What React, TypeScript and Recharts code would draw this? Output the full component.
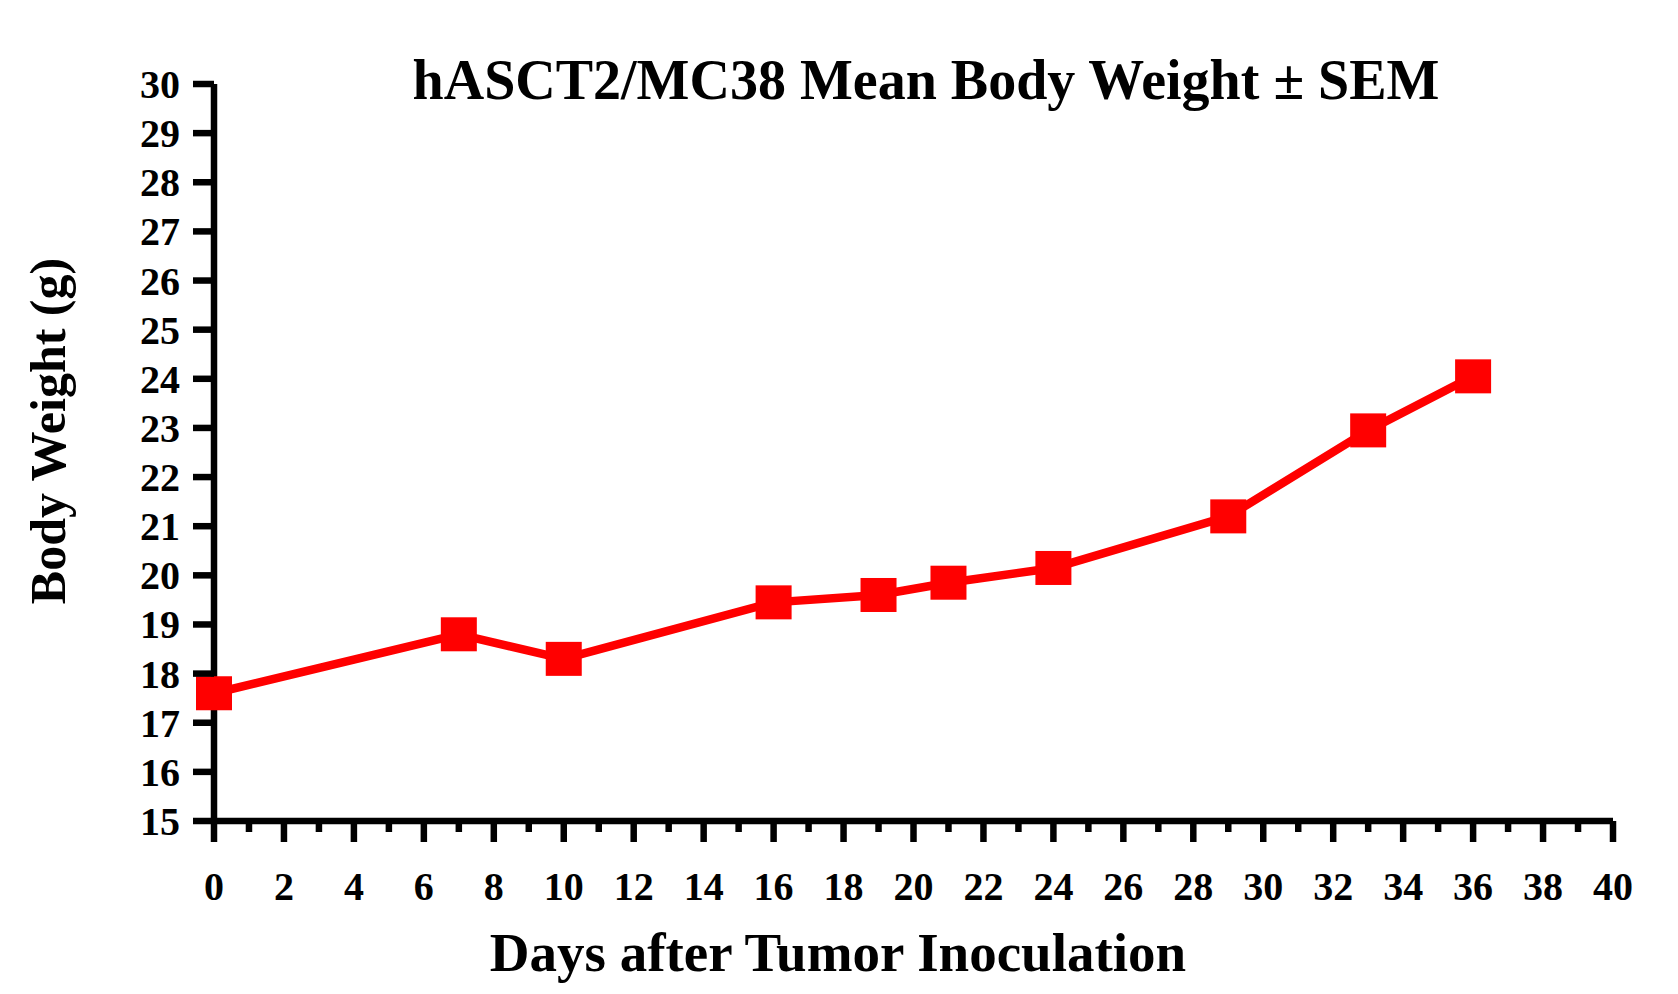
import React from 'react';
import { LineChart, Line, XAxis, YAxis } from 'recharts';

const days = [0, 7, 10, 16, 19, 21, 24, 29, 33, 36];
const weights = [17.6, 18.8, 18.3, 19.45, 19.6, 19.85, 20.15, 21.2, 22.95, 24.05];
const xTicks = Array.from({ length: 41 }, (_, i) => i);
const yTicks = [15, 16, 17, 18, 19, 20, 21, 22, 23, 24, 25, 26, 27, 28, 29, 30];
const data = days.map((d, i) => ({ day: d, w: weights[i] }));

const FONT = '"Liberation Serif", "Times New Roman", serif';

const XTick = (p: any) => {
  const v = p.payload.value;
  const even = v % 2 === 0;
  return (
    <g>
      <line x1={p.x} x2={p.x} y1={p.y} y2={p.y + (even ? 21 : 11)} stroke="#000" strokeWidth={6.5} />
      {even && (
        <text x={p.x} y={p.y + 79} textAnchor="middle" fontFamily={FONT} fontWeight="bold" fontSize={40} fill="#000">
          {v}
        </text>
      )}
    </g>
  );
};

const YTick = (p: any) => (
  <g>
    <line x1={p.x - 21} x2={p.x} y1={p.y} y2={p.y} stroke="#000" strokeWidth={6.5} />
    <text x={p.x - 34} y={p.y + 14} textAnchor="end" fontFamily={FONT} fontWeight="bold" fontSize={40} fill="#000">
      {p.payload.value}
    </text>
  </g>
);

const Dot = (p: any) => (
  <rect key={p.index} x={p.cx - 18} y={p.cy - 17} width={36} height={34} fill="#ff0000" />
);

export default function App() {
  return (
    <div style={{ position: 'absolute', left: 0, top: 0, width: 1678, height: 994, background: '#fff' }}>
      <LineChart width={1678} height={994} data={data} margin={{ left: 213, right: 65, top: 84, bottom: 172 }}>
        <XAxis
          dataKey="day"
          type="number"
          domain={[0, 40]}
          ticks={xTicks}
          interval={0}
          height={1}
          tickSize={0}
          tickMargin={0}
          tickLine={false}
          tick={<XTick />}
          axisLine={{ stroke: '#000', strokeWidth: 6.5 }}
        />
        <YAxis
          type="number"
          domain={[15, 30]}
          ticks={yTicks}
          interval={0}
          width={1}
          tickSize={0}
          tickMargin={0}
          tickLine={false}
          tick={<YTick />}
          axisLine={{ stroke: '#000', strokeWidth: 6.5 }}
        />
        <Line dataKey="w" stroke="#ff0000" strokeWidth={8.5} dot={<Dot />} isAnimationActive={false} />
      </LineChart>
      <div style={{ position: 'absolute', left: 926, top: 48, lineHeight: '64px', transform: 'translateX(-50%)', whiteSpace: 'nowrap', fontFamily: FONT, fontWeight: 'bold', fontSize: 56, color: '#000' }}>
        hASCT2/MC38 Mean Body Weight ± SEM
      </div>
      <div style={{ position: 'absolute', left: 838, top: 921, lineHeight: '64px', transform: 'translateX(-50%)', whiteSpace: 'nowrap', fontFamily: FONT, fontWeight: 'bold', fontSize: 55, color: '#000' }}>
        Days after Tumor Inoculation
      </div>
      <div style={{ position: 'absolute', left: 48, top: 431, lineHeight: '60px', transform: 'translate(-50%, -50%) rotate(-90deg)', whiteSpace: 'nowrap', fontFamily: FONT, fontWeight: 'bold', fontSize: 50, color: '#000' }}>
        Body Weight (g)
      </div>
    </div>
  );
}
